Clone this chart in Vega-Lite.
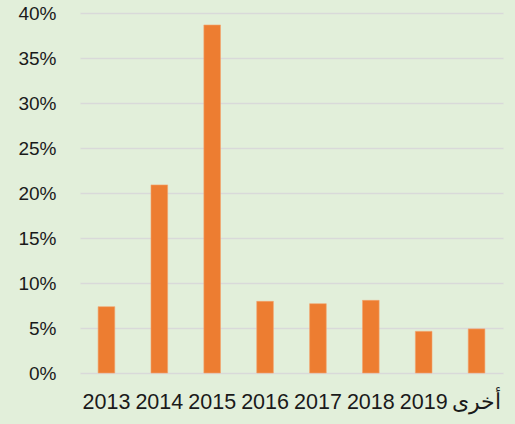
{
  "$schema": "https://vega.github.io/schema/vega-lite/v6.json",
  "width": 423,
  "height": 360,
  "autosize": "none",
  "padding": {"left": 80, "top": 13, "right": 12, "bottom": 51},
  "background": "#E2EFDA",
  "config": {
    "view": {"stroke": null},
    "font": "Liberation Sans"
  },
  "data": {
    "values": [
      {"year": "2013", "share": 0.0737},
      {"year": "2014", "share": 0.209},
      {"year": "2015", "share": 0.3867},
      {"year": "2016", "share": 0.0796},
      {"year": "2017", "share": 0.077},
      {"year": "2018", "share": 0.0807},
      {"year": "2019", "share": 0.0463},
      {"year": "أخرى", "share": 0.049}
    ]
  },
  "mark": {"type": "bar", "color": "#ED7D31", "stroke": "#F4A46E", "strokeWidth": 0.6},
  "encoding": {
    "x": {
      "field": "year",
      "type": "nominal",
      "sort": null,
      "scale": {"paddingInner": 0.685, "paddingOuter": 0.3425},
      "axis": {
        "title": null,
        "labelAngle": 0,
        "ticks": false,
        "domain": false,
        "labelFontSize": 21.5,
        "labelColor": "#1a1a1a",
        "labelPadding": 18,
        "grid": false
      }
    },
    "y": {
      "field": "share",
      "type": "quantitative",
      "scale": {"domain": [0, 0.4], "nice": false},
      "axis": {
        "title": null,
        "values": [0, 0.05, 0.1, 0.15, 0.2, 0.25, 0.3, 0.35, 0.4],
        "format": ".0%",
        "ticks": false,
        "domain": false,
        "labelFontSize": 19,
        "labelColor": "#1a1a1a",
        "labelPadding": 24,
        "gridColor": "#D9D9D9",
        "gridWidth": 1.5
      }
    }
  }
}
